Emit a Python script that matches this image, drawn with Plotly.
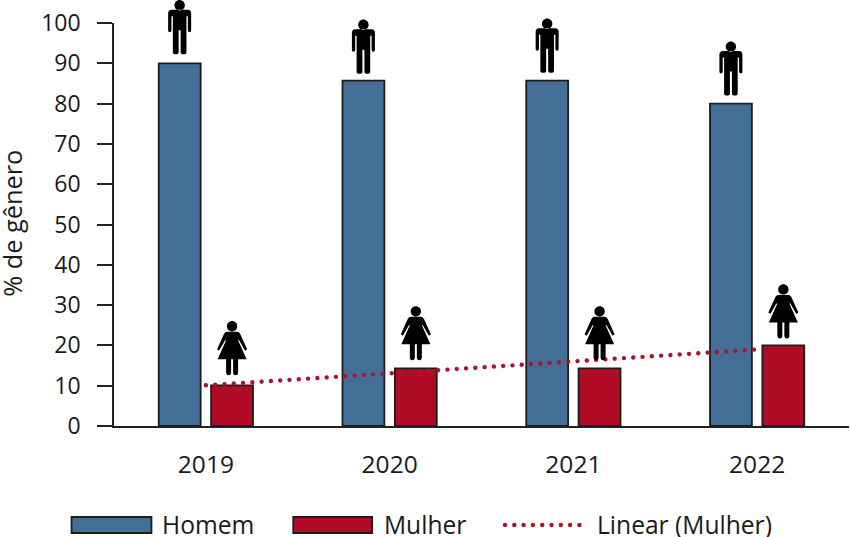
import plotly.graph_objects as go

years = ["2019", "2020", "2021", "2022"]
homem = [90, 85.7, 85.7, 80]
mulher = [10.1, 14.3, 14.3, 20]
trend = [10.1, 13.1, 16.0, 19]
y_ticks = [0, 10, 20, 30, 40, 50, 60, 70, 80, 90, 100]

BLUE = "#436f97"
RED = "#b10c26"
EDGE = "#1c1c1c"
TREND = "#a8162e"
FONT = "Open Sans"
TXT = "#1a1a1a"

W, H = 850, 537
L, R, T, B = 113.5, 0.5, 23, 111
PW, PH = W - L - R, H - T - B

xs = list(range(len(years)))


def circle(cy, r):
    k = 0.5523 * r
    return (f"M {-r},{cy} C {-r},{cy+k} {-k},{cy+r} 0,{cy+r} "
            f"C {k},{cy+r} {r},{cy+k} {r},{cy} "
            f"C {r},{cy-k} {k},{cy-r} 0,{cy-r} "
            f"C {-k},{cy-r} {-r},{cy-k} {-r},{cy} Z")


def man_path(d):
    return (circle(57 + d, 5.2) +
            f" M -8,{52.5+d} L 8,{52.5+d} Q 11.5,{52.5+d} 11.5,{49+d} L 11.5,{32+d} Q 11.5,{30+d} 10,{30+d} "
            f"Q 8.2,{30+d} 8.2,{32+d} L 8.2,{46+d} L 6.8,{46+d} L 6.8,{10+d} Q 6.8,{8+d} 4,{8+d} "
            f"Q 1,{8+d} 1,{10+d} L 1,{32+d} L -1,{32+d} L -1,{10+d} Q -1,{8+d} -4,{8+d} "
            f"Q -6.8,{8+d} -6.8,{10+d} L -6.8,{46+d} L -8.2,{46+d} L -8.2,{32+d} Q -8.2,{30+d} -10,{30+d} "
            f"Q -11.5,{30+d} -11.5,{32+d} L -11.5,{49+d} Q -11.5,{52.5+d} -8,{52.5+d} Z")


def woman_path(d):
    return (circle(57 + d, 5.2) +
            f" M -5,{51.5+d} L 5,{51.5+d} Q 7,{51.5+d} 8,{49.5+d} L 15,{34+d} L 13,{32.5+d} L 7,{43+d} L 6,{43+d} "
            f"L 14.5,{24+d} L 6,{24+d} L 6,{11+d} Q 6,{8+d} 3.5,{8+d} Q 1,{8+d} 1,{11+d} L 1,{24+d} L -1,{24+d} "
            f"L -1,{11+d} Q -1,{8+d} -3.5,{8+d} Q -6,{8+d} -6,{11+d} L -6,{24+d} L -14.5,{24+d} L -6,{43+d} "
            f"L -7,{43+d} L -13,{32.5+d} L -15,{34+d} L -8,{49.5+d} Q -7,{51.5+d} -5,{51.5+d} Z")


MAN_LIFT = [1, -1, 0, 0]
WOMAN_LIFT = [2, 0, 0, -1]

fig = go.Figure()
fig.add_bar(x=xs, y=homem, name="Homem", marker=dict(color=BLUE, line=dict(color=EDGE, width=1.8)), showlegend=False)
fig.add_bar(x=xs, y=mulher, name="Mulher", marker=dict(color=RED, line=dict(color=EDGE, width=1.8)), showlegend=False)
fig.add_scatter(x=xs, y=trend, mode="lines", name="Linear (Mulher)", showlegend=False,
                line=dict(color=TREND, width=4.4, dash="dot"))


def fx(px):
    return (px - L) / PW


def fy(py):
    return 1 - (py - T) / PH


shapes = []
OFF = 0.1427
for i in xs:
    for val, off, path in ((homem[i], -OFF, man_path(MAN_LIFT[i])), (mulher[i], OFF, woman_path(WOMAN_LIFT[i]))):
        shapes.append(dict(type="path", path=path, xref="paper", yref="paper",
                           xsizemode="pixel", ysizemode="pixel",
                           xanchor=(i + off + 0.5) / len(xs), yanchor=val / 100,
                           fillcolor="black", line=dict(width=0)))

# legend keys
for x0, x1, col in ((71, 151, BLUE), (293, 372, RED)):
    shapes.append(dict(type="rect", xref="paper", yref="paper", x0=fx(x0), x1=fx(x1),
                       y0=fy(533), y1=fy(517), fillcolor=col, line=dict(color=EDGE, width=1.8)))
shapes.append(dict(type="line", xref="paper", yref="paper", x0=fx(505), x1=fx(585),
                   y0=fy(525), y1=fy(525), line=dict(color=TREND, width=4.4, dash="dot")))

annotations = [dict(text=t, xref="paper", yref="paper", x=fx(px), y=fy(524), xanchor="left",
                    yanchor="middle", showarrow=False, font=dict(family=FONT, size=24.6, color=TXT))
               for t, px in (("Homem", 160), ("Mulher", 382), ("Linear (Mulher)", 595))]
annotations.append(dict(text="% de gênero", xref="paper", yref="paper", x=fx(11), y=fy(223),
                        xanchor="center", yanchor="middle", textangle=-90, showarrow=False,
                        font=dict(family=FONT, size=25.3, color=TXT)))

fig.update_layout(
    width=W, height=H, margin=dict(l=L, r=R, t=T, b=B),
    paper_bgcolor="white", plot_bgcolor="white", barmode="group",
    bargap=0.43, bargroupgap=0.2, showlegend=False,
    font=dict(family=FONT, size=22, color=TXT),
    shapes=shapes, annotations=annotations,
    xaxis=dict(range=[-0.5, 3.5], tickmode="array", tickvals=xs, ticktext=years, showgrid=False,
               zeroline=False, showline=True, linecolor="#222", linewidth=1.5, ticks="outside", ticklen=16,
               tickcolor="rgba(0,0,0,0)", tickfont=dict(size=24.5), automargin=False, title=None),
    yaxis=dict(range=[0, 100], tickmode="array", tickvals=y_ticks, showgrid=False, zeroline=False,
               showline=True, linecolor="#222", linewidth=1.5, ticks="outside", ticklen=15,
               tickcolor="#222", tickwidth=1.5, tickfont=dict(size=23), ticklabelstandoff=12, automargin=False),
)
post = """
document.body.style.margin='0';
document.documentElement.style.overflow='hidden';
document.querySelectorAll('.js-line, .shapelayer path').forEach(function(el){
  if ((el.style.strokeDasharray || 'none') !== 'none') {
    el.style.strokeLinecap = 'round';
    el.style.strokeDasharray = '0.01px, 9.3px';
  }
});
"""
fig.write_html("out.html", config=dict(displayModeBar=False), post_script=post)
